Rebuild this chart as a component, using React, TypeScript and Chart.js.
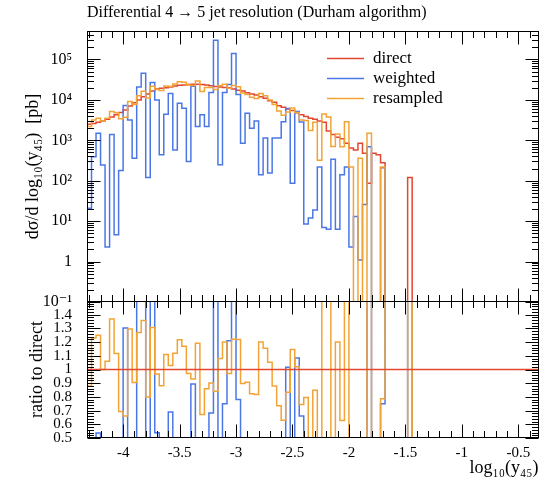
import React, { useEffect, useRef } from "react";
import { Chart, registerables } from "chart.js";

Chart.register(...registerables);

// ---- binning / axes -------------------------------------------------------
const X_MIN = -4.32;
const X_MAX = -0.32;
const BIN_WIDTH = 0.04;
const N_BINS = 100;

const xTickValues = [-4, -3.5, -3, -2.5, -2, -1.5, -1, -0.5];
const mainTickValues = [0.1, 1, 10, 100, 1000, 10000, 100000];
const mainTickLabels = ["10⁻¹", "1", "10¹", "10²", "10³", "10⁴", "10⁵"];
const ratioTickValues = [0.5, 0.6, 0.7, 0.8, 0.9, 1, 1.1, 1.2, 1.3, 1.4];
const ratioTickLabels = ["0.5", "0.6", "0.7", "0.8", "0.9", "1", "1.1", "1.2", "1.3", "1.4"];

const seriesNames = ["direct", "weighted", "resampled"];

// ---- series values per bin [pb] (bin k: X_MIN + k*BIN_WIDTH ...) ----------
const direct = [
  2500, 2600, 2800, 3000, 3300, 3800, 4300, 4900, 5600, 7100,
  8500, 10000, 12000, 14000, 16600, 18600, 19500, 20000, 21000, 22000,
  23000, 23500, 24000, 24500, 24500, 24000, 23500, 22400, 21400, 21000,
  20400, 20000, 18600, 17400, 16600, 15100, 14100, 13200, 12000, 11000,
  9500, 8700, 7200, 6600, 6000, 5500, 4800, 4300, 3900, 3500,
  3300, 3000, 2800, 1700, 1400, 1200, 1100, 850, 650, 580,
  850, 480, 87, 480, 440, 280, 0, 0, 0, 0,
  0, 120,
];

const weighted = [
  21, 390, 1500, 245, 2.3, 1400, 4.6, 180, 7300, 3200,
  360, 21000, 46000, 120, 27000, 10000, 440, 4400, 14500, 580,
  8300, 6200, 300, 21900, 2200, 4300, 2200, 15300, 300000, 250,
  15300, 24200, 140000, 13600, 850, 4700, 2000, 3000, 140, 1150,
  155, 1150, 1150, 2900, 6100, 87, 5200, 2840, 8.5, 12,
  19, 220, 7, 6.3, 340, 6.3, 140, 220, 2.3, 13,
  1.1, 26, 690, 0, 0, 210, 0, 0, 0, 0,
  0, 0,
];

const resampled = [
  2200, 3200, 3500, 3000, 3500, 5200, 4800, 3400, 3700, 9200,
  7700, 12700, 16300, 11200, 21700, 18000, 17200, 22200, 21600, 24600,
  28000, 27500, 23300, 22800, 29200, 16100, 20200, 20200, 18000, 22700,
  24500, 19400, 22700, 21200, 14900, 13700, 11600, 10800, 14400, 12700,
  10000, 7650, 5300, 4150, 5000, 6300, 4900, 3200, 3100, 1750,
  2800, 320, 4500, 3800, 700, 1440, 690, 2900, 220, 0,
  360, 0, 1500, 0, 0, 220, 0, 0, 0, 0,
  0, 0,
];

const COLORS: Record<string, string> = {
  direct: "#e2472f",
  weighted: "#4b77e6",
  resampled: "#f3a335",
};

const FONT = "'Liberation Serif', 'DejaVu Serif', serif";

// ---- helpers ----------------------------------------------------------------
function edge(k: number) {
  return +(X_MIN + k * BIN_WIDTH).toFixed(4);
}

function histPoints(values: (number | null)[], floor: number) {
  const pts: { x: number; y: number | null }[] = [];
  for (let k = 0; k < N_BINS; k++) {
    const raw = k < values.length ? values[k] : 0;
    const y = raw == null ? null : raw > 0 ? raw : floor;
    pts.push({ x: edge(k), y }, { x: edge(k + 1), y });
  }
  return pts;
}

// ratio to the reference; an empty reference bin sends the line off the top
function ratioTo(values: number[]) {
  const out: number[] = [];
  for (let k = 0; k < N_BINS; k++) {
    const d = k < direct.length ? direct[k] : 0;
    const v = k < values.length ? values[k] : 0;
    out.push(d > 0 ? v / d : 100);
  }
  return out;
}

const frameTicks = {
  id: "frameTicks",
  afterDatasetsDraw(chart: any, _args: any, opts: any) {
    const { ctx, chartArea: a } = chart;
    const xs = chart.scales.x;
    const ys = chart.scales.y;
    const L = Math.round(a.left) + 0.5;
    const R = Math.round(a.right) - 0.5;
    const T = Math.round(a.top) + 0.5;
    const B = Math.round(a.bottom) - 0.5;
    const major = 13;
    const minor = 6.5;
    ctx.save();
    ctx.strokeStyle = "#000";
    ctx.lineWidth = 1;
    ctx.beginPath();
    for (let i = Math.ceil(X_MIN * 10); i <= Math.floor(X_MAX * 10); i++) {
      const px = Math.round(xs.getPixelForValue(i / 10)) + 0.5;
      const len = i % 5 === 0 ? major : minor;
      ctx.moveTo(px, T);
      ctx.lineTo(px, T + len);
      ctx.moveTo(px, B);
      ctx.lineTo(px, B - len);
    }
    const yt: [number, boolean][] = [];
    if (opts.log) {
      for (let d = -1; d <= 5; d++) {
        for (let m = 1; m <= 9; m++) {
          const v = m * Math.pow(10, d);
          if (v >= ys.min && v <= ys.max) yt.push([v, m === 1]);
        }
      }
    } else {
      for (let i = 25; i <= 75; i++) yt.push([i / 50, i % 5 === 0]);
    }
    for (const [v, isMajor] of yt) {
      const py = Math.round(ys.getPixelForValue(v)) + 0.5;
      const len = isMajor ? major : minor;
      ctx.moveTo(L, py);
      ctx.lineTo(L + len, py);
      ctx.moveTo(R, py);
      ctx.lineTo(R - len, py);
    }
    ctx.stroke();
    ctx.strokeRect(L, T, R - L, B - T);
    ctx.restore();
  },
};

const histLegend = {
  id: "histLegend",
  afterDraw(chart: any, _args: any, opts: any) {
    if (!opts || !opts.show) return;
    const { ctx, chartArea: a } = chart;
    ctx.save();
    ctx.font = opts.font;
    ctx.textBaseline = "middle";
    ctx.textAlign = "left";
    chart.data.datasets.forEach((ds: any, i: number) => {
      const y = Math.round(a.top + opts.top + i * opts.spacing) + 0.5;
      const x0 = a.left + opts.left;
      ctx.strokeStyle = ds.borderColor;
      ctx.lineWidth = 1.5;
      ctx.beginPath();
      ctx.moveTo(x0, y);
      ctx.lineTo(x0 + opts.lineLen, y);
      ctx.stroke();
      ctx.fillStyle = "#000";
      ctx.fillText(ds.label, x0 + opts.lineLen + opts.gap, y);
    });
    ctx.restore();
  },
};

const drawOrder: Record<string, number> = { direct: 3, weighted: 2, resampled: 1 };

export default function App() {
  const mainRef = useRef<HTMLCanvasElement>(null);
  const ratioRef = useRef<HTMLCanvasElement>(null);

  useEffect(() => {
    const seriesValues: Record<string, number[]> = { direct, weighted, resampled };

    const mainChart = new Chart(mainRef.current as HTMLCanvasElement, {
      type: "line",
      data: {
        datasets: seriesNames.map((name) => ({
          label: name,
          data: histPoints(seriesValues[name], 1e-4),
          borderColor: COLORS[name],
          borderWidth: 1.5,
          pointRadius: 0,
          fill: false,
          tension: 0,
          order: drawOrder[name],
        })),
      },
      options: {
        animation: false,
        responsive: false,
        devicePixelRatio: 1,
        events: [],
        parsing: false as any,
        layout: { padding: { top: 0, left: 0, right: 6.4, bottom: 181 } },
        plugins: {
          legend: { display: false },
          tooltip: { enabled: false },
          title: {
            display: true,
            text: "Differential 4 → 5 jet resolution (Durham algorithm)",
            align: "start",
            fullSize: false,
            color: "#000",
            font: { family: FONT, size: 16, weight: "normal" },
            padding: { top: 3, bottom: 8.8 },
          },
          frameTicks: { log: true },
          histLegend: {
            show: true,
            font: `17px ${FONT}`,
            left: 240,
            top: 27,
            spacing: 20,
            lineLen: 37,
            gap: 9,
          },
        } as any,
        scales: {
          x: { type: "linear", min: X_MIN, max: X_MAX, display: false },
          y: {
            type: "logarithmic",
            min: 0.1,
            max: 5.07e5,
            position: "left",
            grid: { display: false },
            border: { display: false },
            afterFit: (s: any) => {
              s.width = 87;
            },
            afterBuildTicks: (s: any) => {
              s.ticks = mainTickValues.map((v) => ({ value: v }));
            },
            ticks: {
              autoSkip: false,
              padding: 7,
              color: "#000",
              font: { family: FONT, size: 16 },
              callback: (v: any) => {
                const i = mainTickValues.findIndex((t) => Math.abs(Math.log10(t) - Math.log10(v)) < 1e-6);
                return i >= 0 ? mainTickLabels[i] : "";
              },
            },
            title: {
              display: true,
              text: "dσ/d log₁₀(y₄₅)  [pb]",
              color: "#000",
              font: { family: FONT, size: 18 },
              padding: { top: 22, bottom: 0 },
            },
          },
        },
      },
      plugins: [frameTicks, histLegend],
    });

    const ratioDatasets = [
      { name: "resampled", data: ratioTo(resampled), order: 2 },
      { name: "weighted", data: ratioTo(weighted), order: 3 },
      { name: "direct", data: new Array(N_BINS).fill(1), order: 1 },
    ];

    const ratioChart = new Chart(ratioRef.current as HTMLCanvasElement, {
      type: "line",
      data: {
        datasets: ratioDatasets.map((d) => ({
          label: d.name,
          data: histPoints(d.data, 0),
          borderColor: COLORS[d.name],
          borderWidth: 1.5,
          pointRadius: 0,
          fill: false,
          tension: 0,
          spanGaps: false,
          order: d.order,
        })),
      },
      options: {
        animation: false,
        responsive: false,
        devicePixelRatio: 1,
        events: [],
        parsing: false as any,
        layout: { padding: { top: 301, left: 0, right: 6.4, bottom: 0 } },
        plugins: {
          legend: { display: false },
          tooltip: { enabled: false },
          title: { display: false },
          frameTicks: { log: false },
          histLegend: { show: false },
        } as any,
        scales: {
          x: {
            type: "linear",
            min: X_MIN,
            max: X_MAX,
            position: "bottom",
            grid: { display: false },
            border: { display: false },
            afterFit: (s: any) => {
              s.height = 45;
            },
            afterBuildTicks: (s: any) => {
              s.ticks = xTickValues.map((v) => ({ value: v }));
            },
            ticks: {
              autoSkip: false,
              maxRotation: 0,
              padding: -2,
              color: "#000",
              font: { family: FONT, size: 15 },
              callback: (v: any) => String(Math.round(v * 10) / 10),
            },
            title: {
              display: true,
              text: "log₁₀(y₄₅)",
              align: "end",
              color: "#000",
              font: { family: FONT, size: 18 },
              padding: { top: 0, bottom: 4 },
            },
          },
          y: {
            type: "linear",
            min: 0.5,
            max: 1.5,
            position: "left",
            grid: { display: false },
            border: { display: false },
            afterFit: (s: any) => {
              s.width = 87;
            },
            afterBuildTicks: (s: any) => {
              s.ticks = ratioTickValues.map((v) => ({ value: v }));
            },
            ticks: {
              autoSkip: false,
              padding: 7,
              color: "#000",
              font: { family: FONT, size: 15 },
              callback: (v: any) => {
                const i = ratioTickValues.findIndex((t) => Math.abs(t - v) < 1e-6);
                return i >= 0 ? ratioTickLabels[i] : "";
              },
            },
            title: {
              display: true,
              text: "ratio to direct",
              color: "#000",
              font: { family: FONT, size: 18 },
              padding: { top: 26, bottom: 0 },
            },
          },
        },
      },
      plugins: [frameTicks],
    });

    return () => {
      mainChart.destroy();
      ratioChart.destroy();
    };
  }, []);

  const canvasStyle: React.CSSProperties = {
    position: "absolute",
    left: 0,
    top: 0,
    width: 545,
    height: 483,
  };

  return (
    <div style={{ position: "absolute", left: 0, top: 0, width: 545, height: 483, background: "#fff" }}>
      <canvas ref={mainRef} width={545} height={483} style={canvasStyle} />
      <canvas ref={ratioRef} width={545} height={483} style={canvasStyle} />
    </div>
  );
}
